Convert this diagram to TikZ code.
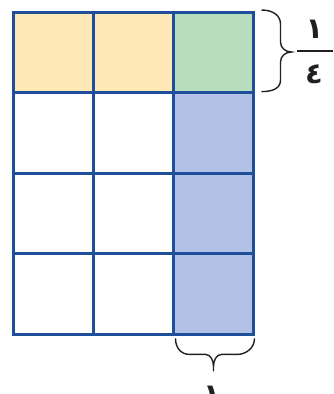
\documentclass[tikz,border=0pt]{standalone}
\usepackage{fontspec}
\newfontfamily\arabicfont[Script=Arabic]{DejaVu Sans}
\usetikzlibrary{calc}
\definecolor{gridblue}{RGB}{31,78,155}
\definecolor{cyellow}{RGB}{253,232,182}
\definecolor{cgreen}{RGB}{182,221,190}
\definecolor{cblue}{RGB}{180,193,230}
\definecolor{ink}{RGB}{35,31,32}
\begin{document}
\begin{tikzpicture}[x=1pt,y=-1pt,
  cell/.style={draw=gridblue, line width=3pt, minimum width=80pt, minimum height=80.6pt, inner sep=0pt, outer sep=0pt},
  bracestyle/.style={draw=ink, line width=1.4pt},
  digit/.style={font=\arabicfont\bfseries\fontsize{29}{29}\selectfont, text=ink, inner sep=0pt}]
\useasboundingbox (0,0) rectangle (333,394);
% grid
\foreach \i in {1,...,4}{
  \foreach \j in {1,...,3}{
    \pgfmathsetmacro{\cx}{13.5+40+80*(\j-1)}
    \pgfmathsetmacro{\cy}{12+40.3+80.6*(\i-1)}
    \node[cell] (c\i\j) at (\cx,\cy) {};
  }
}
\fill[cyellow] (c11.north west) rectangle (c11.south east);
\fill[cyellow] (c12.north west) rectangle (c12.south east);
\fill[cgreen] (c13.north west) rectangle (c13.south east);
\foreach \i in {2,3,4}{\fill[cblue] (c\i3.north west) rectangle (c\i3.south east);}
\foreach \i in {1,...,4}{
  \foreach \j in {1,...,3}{
    \draw[gridblue, line width=3pt] (c\i\j.north west) rectangle (c\i\j.south east);
  }
}
% right brace
\coordinate (rb1) at ($(c13.north east)+(8,-2)$);
\coordinate (rb2) at ($(c13.south east)+(8,-1)$);
\draw[bracestyle] (rb1) .. controls +(12,0) and +(0,-8) .. ++(19,14)
  -- ++(0,18) .. controls +(0,6) and +(-6,0) .. ++(11,10)
  .. controls +(-6,0) and +(0,-6) .. ++(-11,10)
  -- ++(0,18) .. controls +(0,8) and +(12,0) .. (rb2);
% fraction
\node[digit] (num) at (314.5,29) {١};
\coordinate (barL) at (297,51);
\coordinate (barR) at (333,51);
\draw[draw=ink, line width=1.6pt] (barL) -- (barR);
\node[digit] (den) at (314,74.5) {٤};
% bottom brace
\coordinate (bb1) at ($(c43.south west)+(2,4)$);
\coordinate (bb2) at ($(c43.south east)+(1,4)$);
\draw[bracestyle] (bb1) .. controls +(0,10) and +(-8,0) .. ++(14,16)
  -- ++(16,0) .. controls +(5,0) and +(0,-6) .. ++(8,12)
  -- ++(0,5) ++(0,-5)
  .. controls +(0,-6) and +(-5,0) .. ++(8,-12)
  -- ++(16,0) .. controls +(8,0) and +(0,10) .. (bb2);
\node[digit, anchor=north] (bot) at (212,386) {١};
\end{tikzpicture}
\end{document}
